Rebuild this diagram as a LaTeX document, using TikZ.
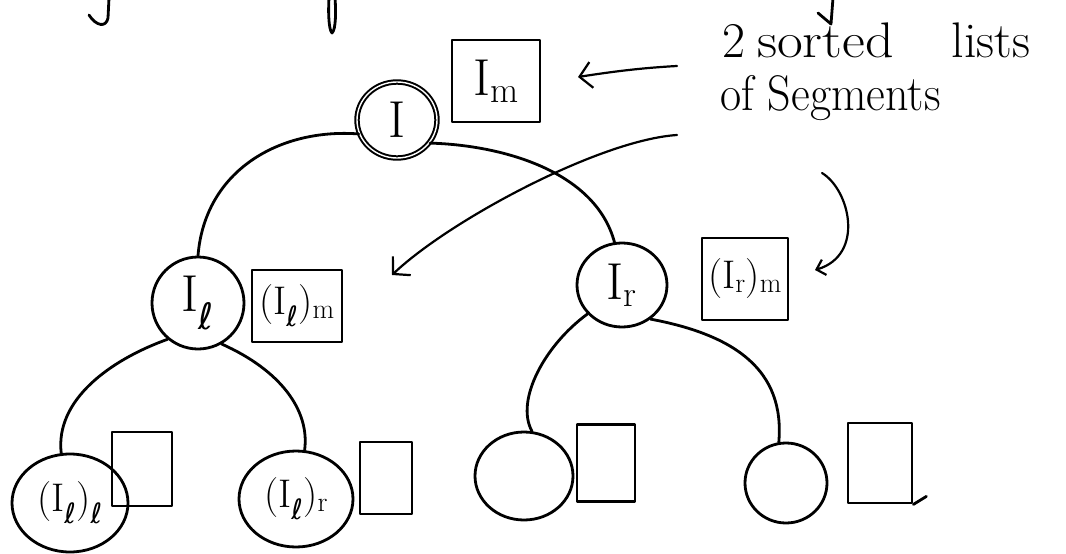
\documentclass[tikz,border=0pt]{standalone}
\usepackage{fontspec}
\usepackage{graphicx}
\newfontfamily\dvs{DejaVu Sans}
\usetikzlibrary{shapes.geometric,arrows.meta}
\newcommand\lsym{{\dvs ℓ}}
\newcommand\bigfnt{\fontsize{52}{56}\selectfont}
\newcommand\midfnt{\fontsize{40}{44}\selectfont}
\newcommand\notefnt{\fontsize{50}{60}\selectfont}
\begin{document}
\begin{tikzpicture}[x=1pt,y=-1pt,
  ink/.style={line width=2.8pt, line cap=round, line join=round},
  nd/.style={ink, draw, ellipse, inner sep=0pt, font=\bigfnt},
  bx/.style={ink, draw, rectangle, inner sep=0pt, font=\bigfnt},
  ptr/.style={ink, line width=2.2pt, -{Straight Barb[length=12pt,width=26pt]}},
  ptrs/.style={ink, line width=2.2pt, -{Straight Barb[length=8pt,width=16pt]}},
  note/.style={font=\notefnt, anchor=base west, inner sep=0pt}]
\useasboundingbox (0,0) rectangle (1066,554);
\fill[white] (0,0) rectangle (1066,554);

% cut-off strokes at the top edge
\draw[ink] (109,-2) -- (108,18) .. controls (106,28) and (96,26) .. (89,15);
\draw[ink] (329,-2) .. controls (328,15) and (329,30) .. (332,33) .. controls (336,30) and (336,10) .. (335,-2);
\draw[ink] (818,13) -- (831,24) -- (833,-2);

% level 1
\node[nd, double, double distance=1.4pt, line width=2pt, minimum width=80pt, minimum height=76pt] (root) at (397,120) {I};
\node[bx, minimum width=88pt, minimum height=82pt] (Im) at (496,81) {I\textsubscript{m}};

% level 2
\node[nd, minimum width=92pt, minimum height=92pt] (Il) at (198,303) {I\textsubscript{\lsym}};
\node[bx, font=\midfnt, minimum width=90pt, minimum height=72pt] (Ilm) at (297,306) {(I\textsubscript{\lsym})\textsubscript{m}};
\node[nd, minimum width=90pt, minimum height=84pt] (Ir) at (622,285) {I\textsubscript{r}};
\node[bx, font=\midfnt, minimum width=86pt, minimum height=82pt] (Irm) at (745,279) {(I\textsubscript{r})\textsubscript{m}};

% level 3
\node[nd, font=\midfnt, minimum width=116pt, minimum height=98pt] (Ill) at (70,503) {(I\textsubscript{\lsym})\textsubscript{\lsym}};
\node[bx, minimum width=60pt, minimum height=74pt] (b1) at (142,469) {};
\node[nd, font=\midfnt, minimum width=114pt, minimum height=96pt] (Ilr) at (296,499) {(I\textsubscript{\lsym})\textsubscript{r}};
\node[bx, minimum width=52pt, minimum height=72pt] (b2) at (386,478) {};
\node[nd, minimum width=98pt, minimum height=88pt] (c3) at (524,476) {};
\node[bx, minimum width=58pt, minimum height=77pt] (b3) at (606,463) {};
\node[nd, minimum width=82pt, minimum height=80pt] (c4) at (786,483) {};
\node[bx, minimum width=64pt, minimum height=80pt] (b4) at (880,463) {};
\draw[ink] (b4.south east) -- ++(13,-8);

% tree edges
\draw[ink] (root.200) .. controls (280,128) and (205,170) .. (Il.north);
\draw[ink] (root.-35) .. controls (500,145) and (595,170) .. (Ir.100);
\draw[ink] (Il.-130) .. controls (110,360) and (55,400) .. (Ill.100);
\draw[ink] (Il.-60) .. controls (280,370) and (310,410) .. (Ilr.80);
\draw[ink] (Ir.-140) .. controls (545,345) and (515,400) .. (c3.80);
\draw[ink] (Ir.-50) .. controls (735,335) and (785,370) .. (c4.100);

% note
\node[note] (n1) at (722,57) {2\hspace{12pt}\scalebox{1.12}[1]{sorted}\hspace{58pt}lists};
\node[note] (n2) at (720,110) {\scalebox{0.92}[1]{of Segments}};

% pointer arrows
\coordinate (p1s) at (677,66);
\coordinate (p1e) at (578,77);
\coordinate (p2s) at (677,135);
\coordinate (p2e) at (392,275);
\coordinate (p3s) at (822,173);
\coordinate (p3e) at (815,270);
\draw[ptr] (p1s) .. controls (640,68) and (610,72) .. (p1e);
\draw[ptr] (p2s) .. controls (600,140) and (450,220) .. (p2e);
\draw[ptrs] (p3s) .. controls (850,190) and (865,255) .. (p3e);
\end{tikzpicture}
\end{document}
